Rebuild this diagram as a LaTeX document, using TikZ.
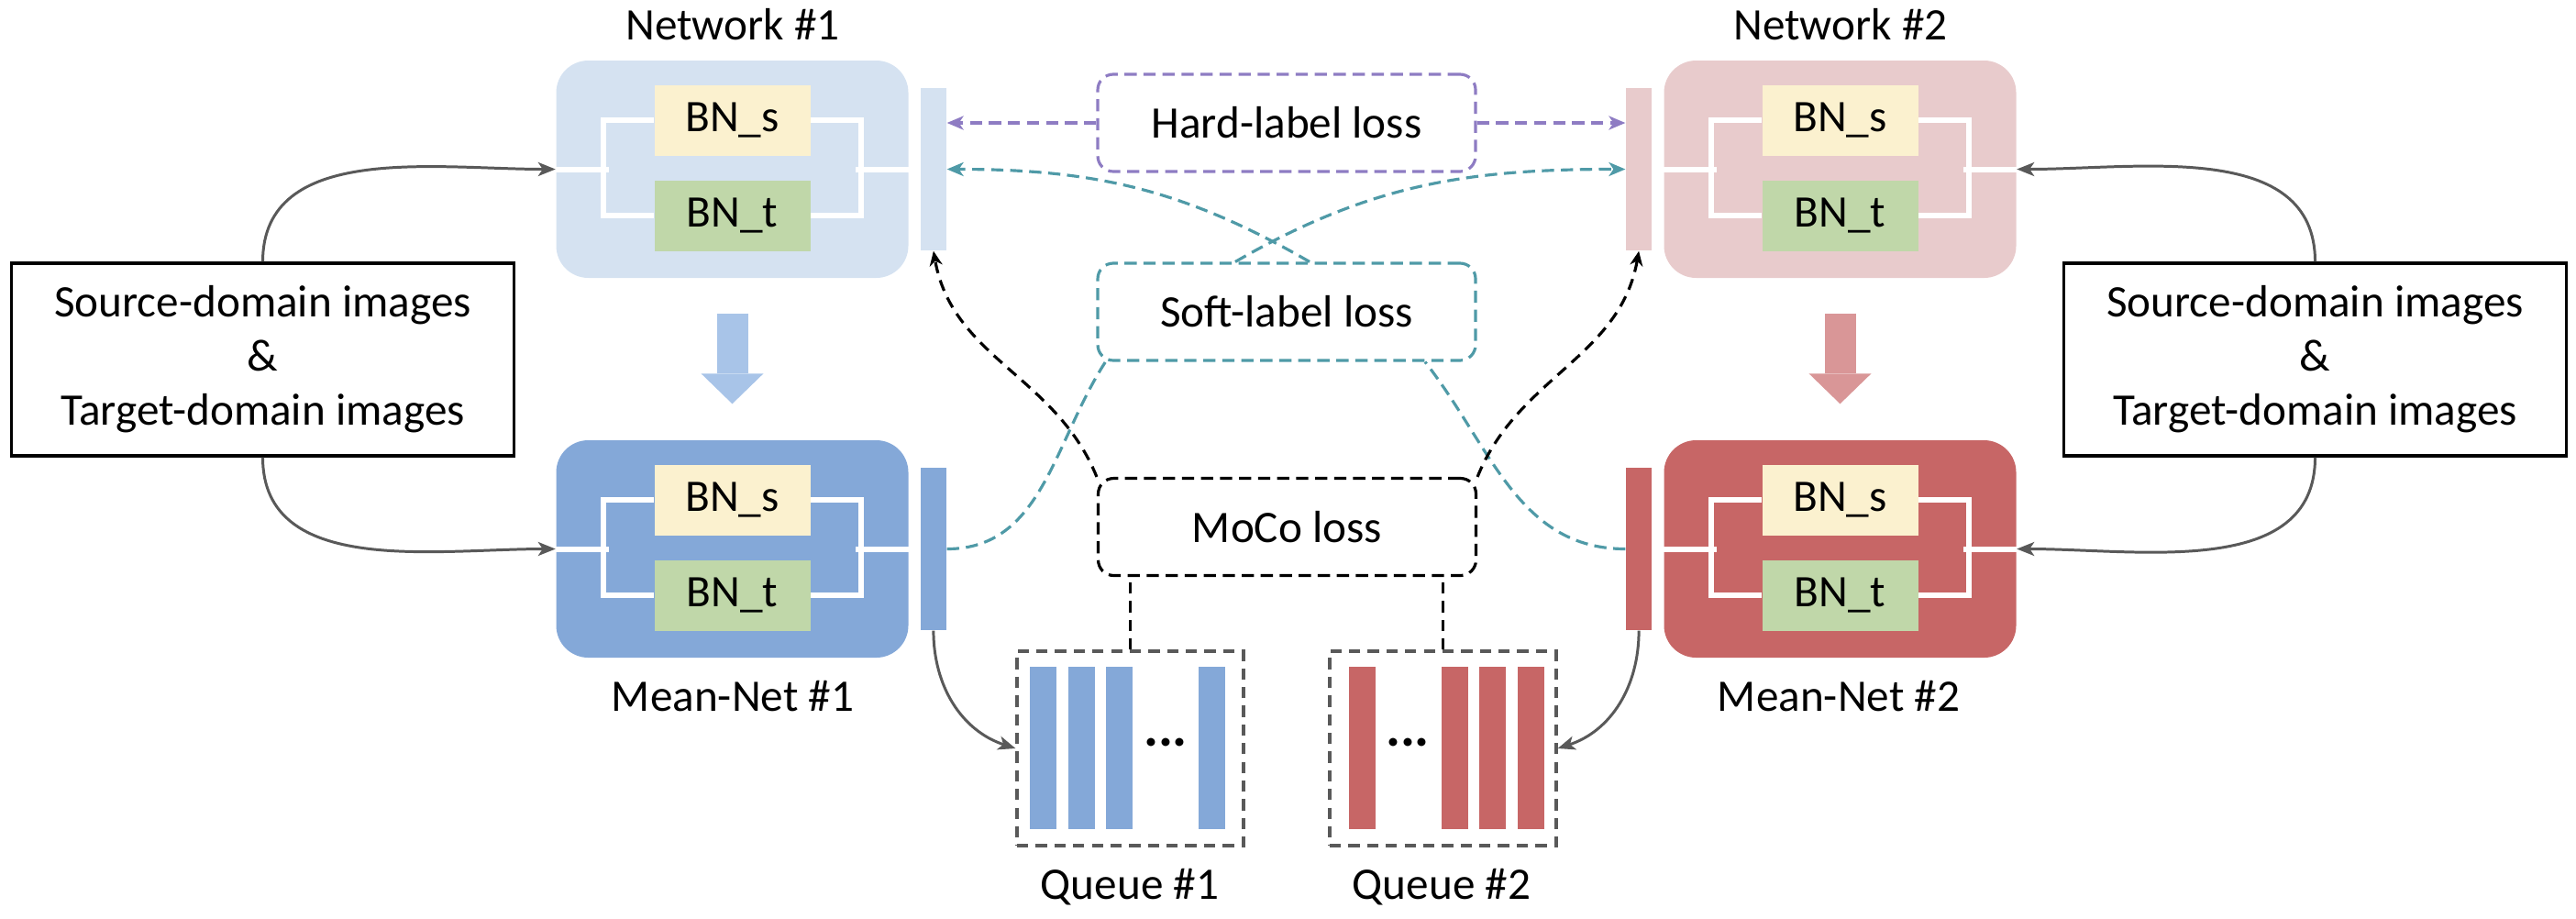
\documentclass[tikz,border=0pt]{standalone}
\usepackage{fontspec}
\setmainfont{Carlito}
\usetikzlibrary{arrows.meta, calc, positioning}
\definecolor{netone}{RGB}{213,226,241}
\definecolor{meanone}{RGB}{132,168,216}
\definecolor{nettwo}{RGB}{232,203,204}
\definecolor{meantwo}{RGB}{199,102,102}
\definecolor{bnsrc}{RGB}{251,241,207}
\definecolor{bntgt}{RGB}{192,215,169}
\definecolor{pushone}{RGB}{168,196,232}
\definecolor{pushtwo}{RGB}{217,150,151}
\definecolor{hardcol}{RGB}{142,124,195}
\definecolor{softcol}{RGB}{79,154,167}
\definecolor{feedcol}{RGB}{89,89,89}

\begin{document}
\begin{tikzpicture}[
        font=\fontsize{14}{16.8}\selectfont,
        netbox/.style={rectangle, rounded corners=0.35cm, minimum width=3.84cm, minimum height=2.37cm, inner sep=0pt},
        bnbox/.style={rectangle, minimum width=1.70cm, minimum height=0.77cm, inner sep=0pt},
        featbar/.style={rectangle, minimum width=0.28cm, minimum height=1.77cm, inner sep=0pt},
        qbar/.style={rectangle, minimum width=0.29cm, minimum height=1.77cm, inner sep=0pt},
        wire/.style={white, line width=0.06cm},
        lossbox/.style={rectangle, rounded corners=0.17cm, line width=0.9pt, dash pattern=on 3.8pt off 2.1pt, fill=white, minimum width=4.12cm, minimum height=1.06cm},
        imgbox/.style={draw, line width=0.9pt, minimum width=5.48cm, minimum height=2.10cm, align=center},
        queuebox/.style={draw=feedcol, line width=0.9pt, dash pattern=on 3.5pt off 2.3pt, minimum width=2.47cm, minimum height=2.12cm},
        feed/.style={feedcol, line width=0.85pt, -{Stealth[length=0.19cm, width=0.15cm, inset=0.05cm]}},
        hardline/.style={hardcol, line width=0.9pt, dash pattern=on 3.8pt off 2.1pt, -{Stealth[length=0.18cm, width=0.15cm, inset=0.05cm]}},
        softline/.style={softcol, line width=0.9pt, dash pattern=on 3.8pt off 2.1pt},
        mocoline/.style={black, line width=0.9pt, dash pattern=on 3.5pt off 2.3pt},
        push/.style={line width=0.34cm, -{Triangle[length=0.33cm, width=0.68cm, line width=0pt]}}
    ]
        \useasboundingbox (0,0) rectangle (28.09,-10.01);

        % networks and mean-nets
        \node[netbox, fill=netone] (N1) at (7.985,-1.845) {};
        \node[netbox, fill=nettwo] (N2) at (20.065,-1.845) {};
        \node[netbox, fill=meanone] (MN1) at (7.985,-5.985) {};
        \node[netbox, fill=meantwo] (MN2) at (20.065,-5.985) {};

        \node[featbar, fill=netone, right=0.12cm of N1] (N1b) {};
        \node[featbar, fill=nettwo, left=0.12cm of N2] (N2b) {};
        \node[featbar, fill=meanone, right=0.12cm of MN1] (MN1b) {};
        \node[featbar, fill=meantwo, left=0.12cm of MN2] (MN2b) {};

        \foreach \net in {N1, N2, MN1, MN2} {
            \node[bnbox, fill=bnsrc] (\net s) at ($(\net)+(0,0.535)$) {BN\_s};
            \node[bnbox, fill=bntgt] (\net t) at ($(\net)+(0,-0.505)$) {BN\_t};
            \draw[wire] (\net s.west) -- ++(-0.55,0) |- (\net t.west);
            \draw[wire] (\net s.east) -- ++(0.55,0) |- (\net t.east);
            \draw[wire] (\net.west) -- ++(0.58,0);
            \draw[wire] (\net.east) -- ++(-0.58,0);
        }

        \node (N1l) at (7.99,-0.27) {Network \#1};
        \node (N2l) at (20.07,-0.27) {Network \#2};
        \node (MN1l) at (7.99,-7.59) {Mean-Net \#1};
        \node (MN2l) at (20.05,-7.59) {Mean-Net \#2};

        \draw[push, pushone] ($(N1.south)+(0,-0.38)$) -- ($(MN1.north)+(0,0.39)$);
        \draw[push, pushtwo] ($(N2.south)+(0,-0.38)$) -- ($(MN2.north)+(0,0.39)$);

        % input images
        \node[imgbox] (S1) at (2.865,-3.92) {Source-domain images\\\&\\Target-domain images};
        \node[imgbox] (S2) at (25.245,-3.92) {Source-domain images\\\&\\Target-domain images};

        \draw[feed] (S1.north) to[out=90, in=180] (N1.west);
        \draw[feed] (S1.south) to[out=-90, in=180] (MN1.west);
        \draw[feed] (S2.north) to[out=90, in=0] (N2.east);
        \draw[feed] (S2.south) to[out=-90, in=0] (MN2.east);

        % queues
        \node[queuebox] (Q1) at (12.325,-8.16) {};
        \node[queuebox] (Q2) at (15.735,-8.16) {};
        \foreach \x [count=\i] in {11.375, 11.79, 12.205, 13.21}
            \node[qbar, fill=meanone] (Q1b\i) at (\x,-8.155) {};
        \foreach \x [count=\i] in {14.85, 15.86, 16.275, 16.69}
            \node[qbar, fill=meantwo] (Q2b\i) at (\x,-8.155) {};
        \node[font=\fontsize{17}{17}\selectfont\bfseries] (Q1d) at (12.71,-8.09) {...};
        \node[font=\fontsize{17}{17}\selectfont\bfseries] (Q2d) at (15.35,-8.09) {...};
        \node (Q1l) at (12.32,-9.67) {Queue \#1};
        \node (Q2l) at (15.72,-9.67) {Queue \#2};

        \draw[feed] (MN1b.south) to[out=-90, in=162] (Q1.west);
        \draw[feed] (MN2b.south) to[out=-90, in=18] (Q2.east);

        % losses
        \node[lossbox, draw=hardcol] (hard) at (14.03,-1.34) {Hard-label loss};
        \node[lossbox, draw=softcol] (soft) at (14.03,-3.40) {Soft-label loss};
        \node[lossbox, draw=black] (moco) at (14.035,-5.745) {MoCo loss};

        \draw[hardline] (hard.west) -- (hard.west -| N1b.east);
        \draw[hardline] (hard.east) -- (hard.east -| N2b.west);

        \draw[softline] (MN1b.east) to[out=0, in=237] ($(soft.south west)+(0.10,0)$);
        \draw[softline, -{Stealth[length=0.18cm, width=0.15cm, inset=0.05cm]}] ($(soft.north)+(-0.56,0)$) to[out=30, in=180] (N2b.west);
        \draw[softline] (MN2b.west) to[out=180, in=308] ($(soft.south)+(1.51,0)$);
        \draw[softline, -{Stealth[length=0.18cm, width=0.15cm, inset=0.05cm]}] ($(soft.north)+(0.25,0)$) to[out=150, in=0] (N1b.east);

        \draw[mocoline, -{Stealth[length=0.16cm, width=0.14cm, inset=0.05cm]}] (moco.north west) to[out=112, in=280] (N1b.south);
        \draw[mocoline, -{Stealth[length=0.16cm, width=0.14cm, inset=0.05cm]}] (moco.north east) to[out=68, in=260] (N2b.south);
        \draw[mocoline] (Q1.north) -- (Q1.north |- moco.south);
        \draw[mocoline] (Q2.north) -- (Q2.north |- moco.south);
    \end{tikzpicture}
\end{document}
